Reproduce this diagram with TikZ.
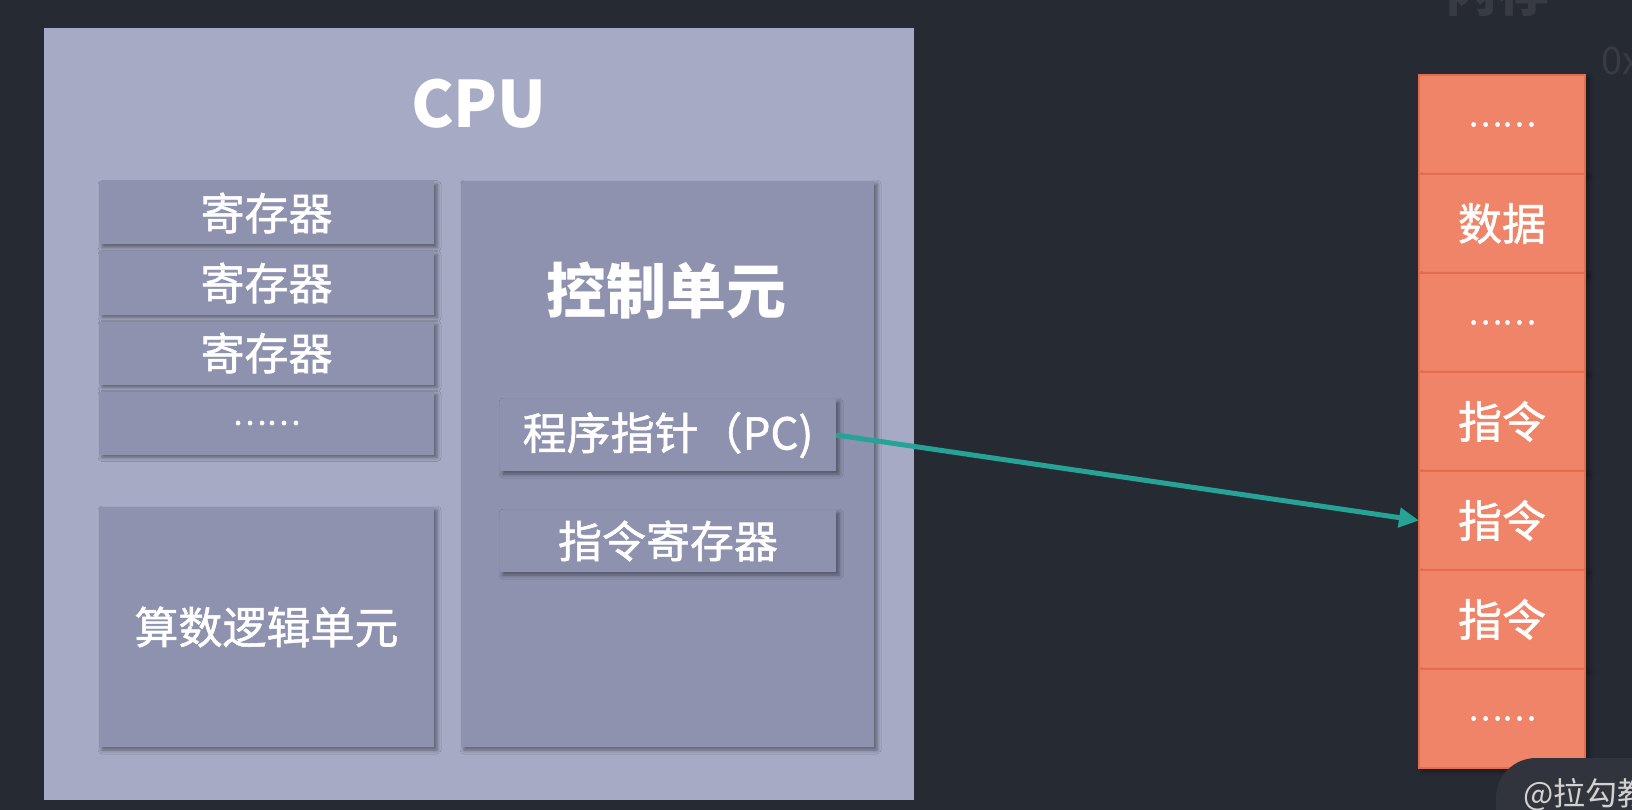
\documentclass[tikz,border=0pt]{standalone}
\usepackage{fontspec}
\setmainfont{Noto Sans CJK SC}
\newfontfamily\medfont{Noto Sans CJK SC}[FakeBold=1.2]
\newcommand{\dotsize}{\fontsize{32}{32}\selectfont}
\usepackage{xcolor}
\usepackage{tikz}
\usetikzlibrary{positioning, arrows.meta, shadows.blur}
\definecolor{bgdark}{HTML}{262A33}
\definecolor{cpugray}{HTML}{A6AAC5}
\definecolor{unitgray}{HTML}{8E92AF}
\definecolor{memorange}{HTML}{F08468}
\definecolor{memedge}{HTML}{E56D4B}
\definecolor{pcteal}{HTML}{25A396}
\definecolor{dimtext}{HTML}{383B43}
\definecolor{markgray}{HTML}{31343C}
\tikzset{
  unitbox/.style={fill=unitgray, text=white, inner sep=0pt, font=\medfont\fontsize{44}{44}\selectfont,
    blur shadow={shadow xshift=3pt, shadow yshift=-3pt, shadow blur radius=4pt, shadow opacity=45}},
  memcell/.style={fill=memorange, draw=memedge, line width=2pt, outer sep=0pt, inner sep=0pt,
    text=white, minimum width=166pt, minimum height=99pt, font=\medfont\fontsize{44}{44}\selectfont},
  dots/.style={font=\medfont\dotsize},
  pcarrow/.style={draw=pcteal, line width=5pt, -{Triangle[length=20pt, width=19pt]}},
}

\begin{document}
\begin{tikzpicture}[x=1pt, y=-1pt]
    \useasboundingbox (0,0) rectangle (1632,810);
    \clip (0,0) rectangle (1632,810);
    \fill[bgdark] (0,0) rectangle (1632,810);

    \node[dimtext, font=\bfseries\fontsize{52}{52}\selectfont, anchor=base] (memtitle) at (1497,12) {内存};
    \node[dimtext, font=\fontsize{38}{38}\selectfont, anchor=west] (addr) at (1598,61) {0x};

    \node[fill=cpugray, minimum width=870pt, minimum height=772pt, inner sep=0pt] (cpu) at (479,414) {};
    \node[text=white, font=\bfseries\fontsize{64}{64}\selectfont] (cputitle) at (479,104) {CPU};

    \node[unitbox, minimum width=335pt, minimum height=63pt] (reg1) at (266.5,213) {寄存器};
    \node[unitbox, minimum width=335pt, minimum height=63pt] (reg2) at (266.5,283) {寄存器};
    \node[unitbox, minimum width=335pt, minimum height=63pt] (reg3) at (266.5,353) {寄存器};
    \node[unitbox, dots, minimum width=335pt, minimum height=63pt] (reg4) at (266.5,423) {……};
    \node[unitbox, minimum width=335pt, minimum height=240pt] (alu) at (266.5,627) {算数逻辑单元};

    \node[unitbox, minimum width=413pt, minimum height=566pt] (ctrl) at (667.5,464) {};
    \node[text=white, font=\bfseries\fontsize{60}{60}\selectfont] (ctrltitle) at (666,291) {控制单元};
    \node[unitbox, minimum width=336pt, minimum height=72pt] (pc) at (668,435) {程序指针（PC)};
    \node[unitbox, minimum width=336pt, minimum height=62pt] (ir) at (668,541) {指令寄存器};

    \foreach \txt [count=\i] in {{\dotsize ……}, 数据, {\dotsize ……}, 指令, 指令, 指令, {\dotsize ……}}
        \node[memcell, blur shadow={shadow xshift=4pt, shadow yshift=-3pt, shadow blur radius=5pt, shadow opacity=40}] (m\i) at (1502,{25.5+99*\i}) {\txt};

    \draw[pcarrow] (pc.east) -- (m5.west);

    \fill[markgray, rounded corners=40pt] (1496,758) rectangle (1720,870);
    \node[text=white!82!black, font=\fontsize{32}{32}\selectfont, anchor=west] (mark) at (1520,795) {@拉勾教育};
\end{tikzpicture}
\end{document}
